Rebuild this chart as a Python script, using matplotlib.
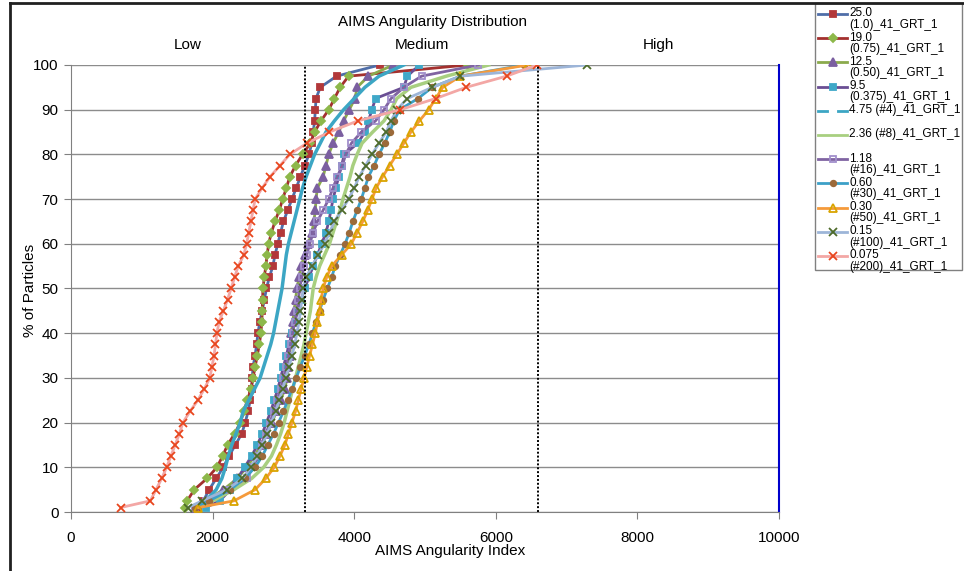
import matplotlib.pyplot as plt
from matplotlib.lines import Line2D
from matplotlib.patches import Rectangle

plt.rcParams['font.family'] = ['Liberation Sans', 'DejaVu Sans']

# cumulative % of particles (same levels read for every sieve size)
pct = [1, 2.5, 5, 7.5, 10, 12.5, 15, 17.5, 20, 22.5, 25, 27.5, 30, 32.5, 35,
       37.5, 40, 42.5, 45, 47.5, 50, 52.5, 55, 57.5, 60, 62.5, 65, 67.5, 70,
       72.5, 75, 77.5, 80, 82.5, 85, 87.5, 90, 92.5, 95, 97.5, 100]

# AIMS angularity index at each level
x_250 = [1800, 1870, 1950, 2050, 2150, 2230, 2320, 2410, 2460, 2500, 2530, 2550, 2560, 2570,
         2600, 2620, 2640, 2665, 2700, 2730, 2760, 2800, 2850, 2880, 2920, 2960, 3000, 3060,
         3120, 3180, 3240, 3300, 3360, 3400, 3420, 3440, 3450, 3460, 3520, 3750, 4360]
x_190 = [1610, 1640, 1740, 1920, 2060, 2140, 2210, 2310, 2390, 2440, 2490, 2540, 2570, 2600,
         2630, 2660, 2680, 2695, 2700, 2705, 2710, 2730, 2750, 2770, 2790, 2830, 2880, 2940,
         2990, 3040, 3090, 3170, 3270, 3380, 3440, 3530, 3640, 3720, 3800, 3920, 5600]
x_125 = [1750, 1900, 2150, 2350, 2480, 2590, 2680, 2760, 2840, 2900, 2960, 3020, 3050, 3070,
         3090, 3100, 3110, 3130, 3150, 3170, 3190, 3220, 3250, 3300, 3350, 3400, 3430, 3450,
         3460, 3480, 3560, 3600, 3640, 3700, 3780, 3850, 3930, 4010, 4040, 4200, 4550]
x_095 = [1900, 2100, 2250, 2350, 2450, 2550, 2630, 2700, 2760, 2820, 2870, 2920, 2960, 3000,
         3040, 3080, 3120, 3160, 3200, 3250, 3300, 3360, 3420, 3480, 3540, 3600, 3640, 3670,
         3700, 3740, 3780, 3820, 3860, 4050, 4150, 4200, 4250, 4300, 4700, 4750, 4920]
x_475 = [1800, 1900, 2050, 2130, 2180, 2220, 2270, 2330, 2390, 2430, 2510, 2590, 2670, 2720,
         2770, 2820, 2860, 2890, 2920, 2950, 2980, 3000, 3020, 3040, 3070, 3110, 3150, 3190,
         3230, 3270, 3320, 3380, 3440, 3520, 3600, 3720, 3850, 4000, 4150, 4350, 4700]
x_236 = [1800, 2000, 2300, 2550, 2720, 2830, 2900, 2960, 3010, 3050, 3090, 3130, 3170, 3210,
         3250, 3290, 3320, 3350, 3380, 3400, 3420, 3460, 3510, 3580, 3650, 3700, 3750, 3800,
         3840, 3890, 3940, 3980, 4040, 4110, 4260, 4420, 4520, 4600, 4800, 5300, 5900]
x_118 = [1750, 1900, 2200, 2480, 2570, 2640, 2690, 2750, 2810, 2860, 2910, 2960, 3000, 3040,
         3070, 3100, 3130, 3160, 3190, 3210, 3230, 3260, 3290, 3330, 3370, 3420, 3480, 3560,
         3640, 3700, 3760, 3830, 3880, 3960, 4100, 4300, 4420, 4520, 4700, 4950, 5750]
x_060 = [1750, 1950, 2250, 2450, 2600, 2700, 2780, 2860, 2930, 3000, 3060, 3120, 3180, 3240,
         3300, 3360, 3410, 3460, 3510, 3560, 3620, 3680, 3730, 3800, 3870, 3930, 3980, 4040,
         4100, 4150, 4200, 4280, 4350, 4430, 4500, 4560, 4640, 4900, 5100, 5500, 6400]
x_030 = [1800, 2300, 2600, 2750, 2870, 2950, 3020, 3070, 3120, 3170, 3210, 3250, 3290, 3330,
         3370, 3410, 3450, 3480, 3510, 3530, 3560, 3610, 3680, 3820, 3960, 4040, 4120, 4190,
         4250, 4310, 4400, 4500, 4600, 4700, 4800, 4920, 5050, 5150, 5250, 5500, 6450]
x_015 = [1650, 1850, 2200, 2420, 2540, 2630, 2700, 2770, 2830, 2890, 2940, 2990, 3030, 3080,
         3120, 3160, 3190, 3220, 3240, 3260, 3280, 3320, 3400, 3490, 3580, 3650, 3720, 3820,
         3920, 4000, 4070, 4160, 4250, 4350, 4450, 4520, 4600, 4750, 5100, 5500, 7290]
x_0075 = [700, 1120, 1200, 1280, 1350, 1410, 1470, 1530, 1580, 1680, 1790, 1880, 1960, 1990,
          2020, 2040, 2060, 2090, 2150, 2210, 2260, 2310, 2360, 2440, 2480, 2510, 2540, 2570,
          2600, 2700, 2810, 2950, 3090, 3330, 3650, 4050, 4650, 5150, 5580, 6150, 6580]

labels = ['25.0\n(1.0)_41_GRT_1', '19.0\n(0.75)_41_GRT_1', '12.5\n(0.50)_41_GRT_1',
          '9.5\n(0.375)_41_GRT_1', '4.75 (#4)_41_GRT_1', '2.36 (#8)_41_GRT_1',
          '1.18\n(#16)_41_GRT_1', '0.60\n(#30)_41_GRT_1', '0.30\n(#50)_41_GRT_1',
          '0.15\n(#100)_41_GRT_1', '0.075\n(#200)_41_GRT_1']
series = [x_250, x_190, x_125, x_095, x_475, x_236, x_118, x_060, x_030, x_015, x_0075]

# (line colour, marker, marker face, marker edge, marker size)
styles = [
    ('#4F6EA8', 's', '#B2383A', '#B2383A', 5),
    ('#A3302E', 'D', '#8DB84A', '#8DB84A', 4.5),
    ('#8BAA4C', '^', '#7B5FA0', '#7B5FA0', 5.5),
    ('#6A4E94', 's', '#3FA8C8', '#3FA8C8', 5),
    ('#3CA6C4', 'None', '#3CA6C4', '#3CA6C4', 6),
    ('#A8CF80', 'None', '#A8CF80', '#A8CF80', 6),
    ('#8064A2', 's', 'none', '#A18FCB', 5),
    ('#3CA0C8', 'o', '#9C6A3A', '#9C6A3A', 4),
    ('#F59A3B', '^', 'none', '#D9A400', 5.5),
    ('#9DB5D8', 'x', '#4E6B2A', '#4E6B2A', 6),
    ('#F3A7A5', 'x', '#E8461E', '#E8461E', 6),
]

fig = plt.figure(figsize=(9.64, 5.71), dpi=100)
ax = fig.add_axes([0.0737, 0.1033, 0.7345, 0.7829])

ax.yaxis.grid(True, color='#8C8C8C', lw=1)
ax.set_axisbelow(True)

for xs, st in zip(series, styles):
    lc, mk, mfc, mec, ms = st
    lw = 2.5 if mk == 'None' else 2
    ax.plot(xs, pct, color=lc, lw=lw, marker=mk, mfc=mfc, mec=mec,
            ms=ms, mew=1.3, zorder=3)

for xv in [3300, 6600]:
    ax.plot([xv, xv], [0, 100], color='black', ls=(0, (1, 1)), lw=1.4, zorder=4)

ax.set_xlim(0, 10000)
ax.set_ylim(0, 100)
ax.set_xticks([0, 2000, 4000, 6000, 8000, 10000])
ax.set_yticks(range(0, 101, 10))
ax.tick_params(axis='both', direction='out', length=5, color='#808080',
               labelsize=11, pad=9)
ax.tick_params(axis='y', pad=4)

ax.spines['top'].set_visible(False)
ax.spines['left'].set_color('#808080')
ax.spines['bottom'].set_color('#808080')
ax.spines['right'].set_color('#0000CC')
ax.spines['right'].set_linewidth(1.5)

for name, xc in [('Low', 1650), ('Medium', 4950), ('High', 8300)]:
    ax.text(xc, 104.5, name, ha='center', va='center', fontsize=11)

fig.text(432 / 964, 1 - 22 / 571, 'AIMS Angularity Distribution',
         ha='center', va='center', fontsize=11)
fig.text(450 / 964, 1 - 551 / 571, 'AIMS Angularity Index',
         ha='center', va='center', fontsize=11)
fig.text(30 / 964, 1 - 290 / 571, '% of Particles', rotation=90,
         ha='center', va='center', fontsize=11)

# figure frame (top and left only)
fig.add_artist(Line2D([10 / 964, 1], [1 - 3 / 571, 1 - 3 / 571],
                      transform=fig.transFigure, color='#202020', lw=2))
fig.add_artist(Line2D([10 / 964, 10 / 964], [0, 1 - 3 / 571],
                      transform=fig.transFigure, color='#202020', lw=2))

# Excel-style legend box
W, H = 964, 571
fig.add_artist(Rectangle((815 / W, 1 - 270 / H), 147 / W, 267 / H,
                         transform=fig.transFigure, fc='white', ec='#808080', lw=1))
for i, (lab, st) in enumerate(zip(labels, styles)):
    lc, mk, mfc, mec, ms = st
    yk = 1 - (14 + 24.2 * i) / H
    fig.add_artist(Line2D([818 / W, 847 / W], [yk, yk], transform=fig.transFigure,
                          color=lc, lw=2))
    if mk == 'None' and i == 4:
        # the 4.75 key shows a small gap in the middle
        fig.add_artist(Line2D([830.5 / W, 834.5 / W], [yk, yk],
                              transform=fig.transFigure, color='white', lw=3))
    elif mk != 'None':
        fig.add_artist(Line2D([832.5 / W], [yk], transform=fig.transFigure,
                              marker=mk, mfc=mfc, mec=mec, ms=ms, mew=1.3, ls='none'))
    fig.text(849 / W, yk + 6.5 / H, lab, ha='left', va='top', fontsize=8.5,
             linespacing=0.92)

fig.savefig('out.png', dpi=100)
